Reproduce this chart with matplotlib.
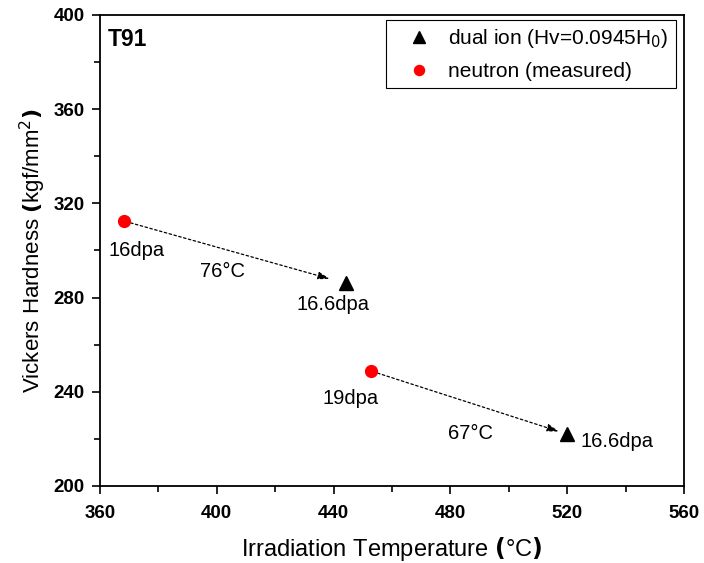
import matplotlib.pyplot as plt
from matplotlib.ticker import MultipleLocator

plt.rcParams['font.family'] = ['Liberation Sans', 'DejaVu Sans']

# data
neutron_temp = [368.2, 452.8]
neutron_hv = [312.5, 248.8]
neutron_dpa = ['16dpa', '19dpa']

ion_temp = [444.2, 519.9]
ion_hv = [286.0, 222.0]
ion_dpa = ['16.6dpa', '16.6dpa']

shift_labels = ['76°C', '67°C']

fig = plt.figure(figsize=(7.04, 5.63), dpi=100)
ax = fig.add_axes([0.142, 0.137, 0.8296, 0.8364])

ax.plot(ion_temp, ion_hv, ls='none', marker='^', ms=9.5, color='black',
        label='dual ion (Hv=0.0945H$_0$)', zorder=5)
ax.plot(neutron_temp, neutron_hv, ls='none', marker='o', ms=8.5, color='red',
        mec='red', label='neutron (measured)', zorder=5)

# dotted arrows from neutron point to dual-ion point
for i in range(2):
    ax.annotate('', xy=(ion_temp[i], ion_hv[i]), xytext=(neutron_temp[i], neutron_hv[i]),
                arrowprops=dict(arrowstyle='-|>,head_length=0.7,head_width=0.22',
                                color='black', lw=0.9, ls=(0, (2, 2)),
                                shrinkA=5, shrinkB=[12, 6][i]))

fs = 14.5
# point labels
ax.annotate(neutron_dpa[0], (neutron_temp[0], neutron_hv[0]), xytext=(9, -25),
            textcoords='offset points', ha='center', fontsize=fs)
ax.annotate(neutron_dpa[1], (neutron_temp[1], neutron_hv[1]), xytext=(-15, -24),
            textcoords='offset points', ha='center', fontsize=fs)
ax.annotate(ion_dpa[0], (ion_temp[0], ion_hv[0]), xytext=(-9, -19),
            textcoords='offset points', ha='center', fontsize=fs)
ax.annotate(ion_dpa[1], (ion_temp[1], ion_hv[1]), xytext=(36, -9),
            textcoords='offset points', ha='center', fontsize=fs)

# temperature shift labels
mid0 = ((neutron_temp[0] + ion_temp[0]) / 2, (neutron_hv[0] + ion_hv[0]) / 2)
mid1 = ((neutron_temp[1] + ion_temp[1]) / 2, (neutron_hv[1] + ion_hv[1]) / 2)
ax.annotate(shift_labels[0], mid0, xytext=(-9, -18), textcoords='offset points',
            ha='center', fontsize=fs)
ax.annotate(shift_labels[1], mid1, xytext=(1, -26), textcoords='offset points',
            ha='center', fontsize=fs)

ax.text(0.014, 0.972, 'T91', transform=ax.transAxes, fontsize=16.5,
        fontweight='bold', va='top')

ax.set_xlim(360, 560)
ax.set_ylim(200, 400)
ax.xaxis.set_major_locator(MultipleLocator(40))
ax.xaxis.set_minor_locator(MultipleLocator(20))
ax.yaxis.set_major_locator(MultipleLocator(40))
ax.yaxis.set_minor_locator(MultipleLocator(20))
ax.tick_params(which='major', direction='out', length=6, width=1.2,
               labelsize=13.5, pad=5)
ax.tick_params(axis='x', which='major', pad=8)
ax.tick_params(which='minor', direction='out', length=4, width=1.2)
for lab in ax.get_xticklabels() + ax.get_yticklabels():
    lab.set_fontweight('bold')
for sp in ax.spines.values():
    sp.set_linewidth(1.3)

ax.set_xlabel('Irradiation Temperature $\\mathbf{(}$°C$\\mathbf{)}$', fontsize=17, labelpad=9)
ax.set_ylabel('Vickers Hardness $\\mathbf{(}$kgf/mm$^2$$\\mathbf{)}$', fontsize=16, labelpad=4)

leg = ax.legend(loc='upper right', fontsize=15, frameon=True, fancybox=False,
                edgecolor='black', framealpha=1, handletextpad=0.15,
                borderpad=0.35, labelspacing=0.55, handlelength=2.5,
                bbox_to_anchor=(0.9863, 0.989), borderaxespad=0,
                markerscale=0.85)
leg.get_frame().set_linewidth(0.8)

fig.savefig('out.png', dpi=100)
